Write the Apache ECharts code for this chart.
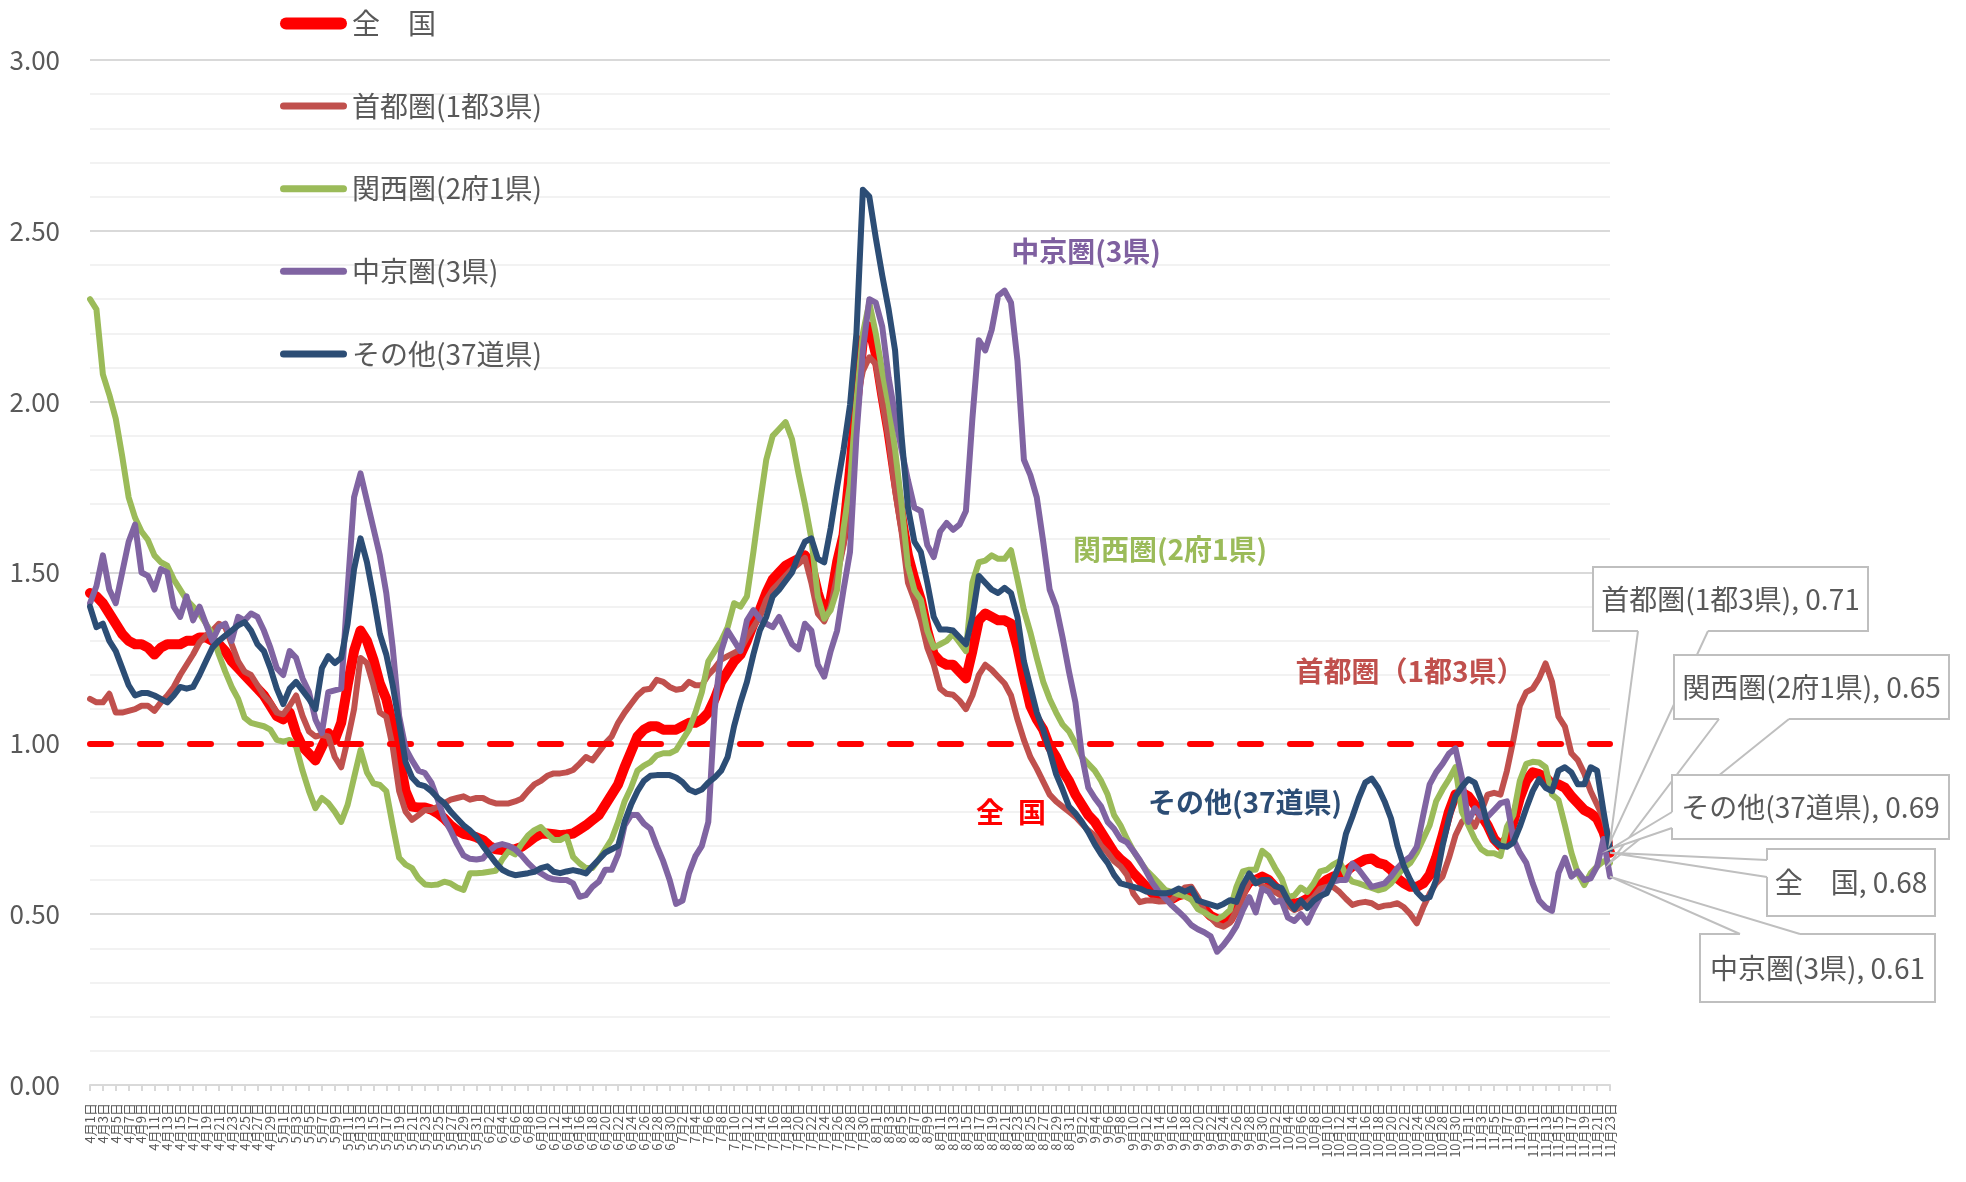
<!DOCTYPE html>
<html><head><meta charset="utf-8">
<script src="https://cdn.jsdelivr.net/npm/echarts@6/dist/echarts.min.js"></script>
<style>html,body{margin:0;padding:0;background:#fff}#c{width:1966px;height:1182px}</style>
</head><body><div id="c"></div>
<script>
// ---- categories (4/1 - 11/23) ----
const monthDays = [[4,30],[5,31],[6,30],[7,31],[8,31],[9,30],[10,31],[11,23]];
const dates = [];
for (const [m, n] of monthDays) for (let d = 1; d <= n; d++) dates.push(m + '月' + d + '日');

const seriesNames = ['全　国', '首都圏(1都3県)', '関西圏(2府1県)', '中京圏(3県)', 'その他(37道県)'];
const threshold = 1.0;

const zenkoku = [
1.44,1.43,1.41,1.38,1.35,1.32,1.30,1.29,1.29,1.28,
1.26,1.28,1.29,1.29,1.29,1.30,1.30,1.31,1.31,1.30,
1.29,1.27,1.24,1.22,1.20,1.18,1.16,1.14,1.11,1.08,
1.07,1.09,1.03,0.99,0.97,0.95,0.99,1.03,1.01,1.06,
1.17,1.27,1.33,1.30,1.245,1.175,1.13,1.05,0.96,0.86,
0.815,0.812,0.812,0.806,0.795,0.78,0.76,0.745,0.735,0.731,
0.725,0.717,0.70,0.69,0.688,0.688,0.69,0.697,0.71,0.725,
0.735,0.736,0.734,0.731,0.733,0.736,0.748,0.76,0.775,0.79,
0.82,0.85,0.88,0.93,0.975,1.02,1.04,1.05,1.05,1.04,
1.04,1.04,1.05,1.06,1.06,1.07,1.09,1.13,1.18,1.21,
1.24,1.26,1.30,1.35,1.39,1.44,1.48,1.50,1.52,1.53,
1.54,1.55,1.52,1.44,1.38,1.42,1.53,1.61,1.80,2.00,
2.18,2.22,2.14,2.02,1.91,1.78,1.66,1.55,1.48,1.42,
1.33,1.26,1.24,1.23,1.23,1.21,1.19,1.27,1.36,1.38,
1.37,1.36,1.36,1.35,1.28,1.19,1.11,1.07,1.04,0.99,
0.96,0.92,0.89,0.85,0.82,0.79,0.77,0.74,0.71,0.68,
0.66,0.645,0.62,0.60,0.58,0.56,0.555,0.55,0.545,0.555,
0.56,0.55,0.535,0.515,0.495,0.485,0.478,0.485,0.52,0.565,
0.595,0.60,0.61,0.60,0.58,0.565,0.54,0.53,0.535,0.545,
0.56,0.585,0.60,0.61,0.615,0.625,0.64,0.65,0.66,0.663,
0.65,0.645,0.63,0.605,0.59,0.58,0.58,0.59,0.615,0.665,
0.73,0.80,0.85,0.856,0.845,0.82,0.79,0.76,0.72,0.70,
0.72,0.77,0.84,0.89,0.915,0.91,0.90,0.88,0.88,0.87,
0.845,0.825,0.805,0.795,0.78,0.74,0.68];

const shutoken = [
1.13,1.12,1.12,1.145,1.09,1.09,1.095,1.10,1.11,1.11,
1.095,1.12,1.14,1.165,1.20,1.23,1.26,1.295,1.315,1.33,
1.35,1.34,1.29,1.24,1.21,1.20,1.17,1.14,1.12,1.09,
1.085,1.11,1.14,1.08,1.035,1.02,1.025,1.02,0.96,0.93,
1.01,1.10,1.25,1.235,1.17,1.09,1.078,0.99,0.86,0.80,
0.776,0.79,0.805,0.805,0.815,0.825,0.835,0.84,0.845,0.835,
0.84,0.84,0.83,0.824,0.824,0.824,0.83,0.838,0.86,0.88,
0.89,0.905,0.912,0.912,0.915,0.922,0.94,0.96,0.95,0.975,
1.00,1.02,1.06,1.09,1.115,1.14,1.157,1.16,1.186,1.18,
1.165,1.157,1.16,1.18,1.17,1.17,1.20,1.22,1.245,1.255,
1.265,1.275,1.31,1.34,1.37,1.42,1.45,1.47,1.49,1.51,
1.525,1.543,1.47,1.38,1.357,1.40,1.49,1.58,1.75,2.00,
2.09,2.13,2.11,2.00,1.89,1.74,1.62,1.47,1.42,1.36,
1.28,1.23,1.16,1.145,1.142,1.125,1.10,1.14,1.20,1.23,
1.215,1.195,1.175,1.14,1.07,1.01,0.96,0.926,0.888,0.85,
0.83,0.815,0.80,0.785,0.765,0.745,0.73,0.70,0.68,0.655,
0.64,0.615,0.56,0.535,0.54,0.54,0.537,0.538,0.541,0.56,
0.578,0.58,0.55,0.51,0.49,0.47,0.463,0.475,0.51,0.55,
0.595,0.60,0.583,0.575,0.565,0.553,0.525,0.512,0.52,0.535,
0.55,0.575,0.58,0.58,0.565,0.545,0.527,0.533,0.536,0.532,
0.52,0.525,0.527,0.532,0.52,0.50,0.473,0.52,0.56,0.59,
0.61,0.665,0.73,0.77,0.785,0.756,0.80,0.85,0.855,0.85,
0.92,1.01,1.11,1.15,1.16,1.19,1.234,1.18,1.078,1.049,
0.971,0.951,0.912,0.86,0.82,0.78,0.71];

const kansai = [
2.30,2.27,2.08,2.02,1.95,1.84,1.72,1.66,1.62,1.595,
1.55,1.53,1.52,1.48,1.45,1.42,1.40,1.38,1.35,1.32,
1.26,1.21,1.165,1.13,1.075,1.06,1.055,1.05,1.04,1.01,
1.005,1.01,0.99,0.92,0.86,0.81,0.84,0.825,0.80,0.77,
0.82,0.90,0.98,0.915,0.883,0.878,0.86,0.76,0.665,0.645,
0.635,0.605,0.587,0.585,0.587,0.595,0.59,0.578,0.571,0.62,
0.62,0.621,0.624,0.627,0.66,0.685,0.675,0.705,0.73,0.746,
0.755,0.735,0.717,0.717,0.727,0.668,0.649,0.635,0.635,0.66,
0.69,0.72,0.77,0.83,0.87,0.92,0.935,0.945,0.965,0.971,
0.971,0.98,1.01,1.04,1.09,1.15,1.24,1.27,1.30,1.34,
1.41,1.40,1.43,1.56,1.70,1.83,1.90,1.92,1.94,1.89,
1.79,1.70,1.60,1.43,1.365,1.39,1.45,1.63,1.76,2.00,
2.20,2.29,2.20,2.09,1.99,1.86,1.70,1.52,1.448,1.42,
1.33,1.28,1.29,1.30,1.32,1.295,1.27,1.47,1.53,1.535,
1.55,1.54,1.54,1.565,1.48,1.39,1.325,1.25,1.18,1.13,
1.09,1.055,1.035,1.00,0.96,0.94,0.92,0.89,0.85,0.79,
0.76,0.72,0.685,0.655,0.629,0.61,0.59,0.57,0.565,0.558,
0.552,0.543,0.515,0.505,0.493,0.485,0.495,0.512,0.58,0.625,
0.63,0.63,0.685,0.67,0.635,0.605,0.55,0.555,0.578,0.565,
0.59,0.625,0.63,0.645,0.655,0.615,0.595,0.59,0.583,0.577,
0.57,0.575,0.59,0.615,0.635,0.65,0.68,0.72,0.76,0.83,
0.865,0.895,0.93,0.80,0.76,0.72,0.69,0.678,0.678,0.67,
0.756,0.79,0.89,0.94,0.946,0.944,0.93,0.85,0.834,0.76,
0.68,0.62,0.585,0.62,0.64,0.655,0.65];

const chukyo = [
1.41,1.46,1.55,1.45,1.41,1.50,1.59,1.64,1.50,1.49,
1.45,1.51,1.50,1.40,1.37,1.43,1.36,1.40,1.35,1.30,
1.34,1.35,1.30,1.37,1.36,1.38,1.37,1.33,1.28,1.22,
1.20,1.27,1.25,1.19,1.15,1.07,1.03,1.15,1.155,1.16,
1.45,1.72,1.79,1.71,1.63,1.55,1.44,1.28,1.08,0.985,
0.95,0.92,0.913,0.885,0.835,0.78,0.745,0.705,0.672,0.662,
0.66,0.663,0.685,0.70,0.705,0.70,0.69,0.672,0.65,0.632,
0.62,0.608,0.602,0.60,0.60,0.59,0.551,0.556,0.58,0.595,
0.63,0.63,0.675,0.76,0.79,0.79,0.765,0.75,0.70,0.655,
0.60,0.53,0.54,0.62,0.67,0.70,0.77,1.10,1.27,1.33,
1.30,1.27,1.36,1.39,1.365,1.35,1.34,1.37,1.33,1.29,
1.275,1.35,1.33,1.23,1.195,1.27,1.33,1.45,1.56,1.90,
2.15,2.30,2.29,2.22,2.07,1.96,1.86,1.77,1.69,1.68,
1.58,1.545,1.62,1.645,1.625,1.64,1.68,1.95,2.18,2.15,
2.21,2.31,2.325,2.29,2.12,1.83,1.785,1.72,1.59,1.45,
1.40,1.31,1.21,1.12,0.965,0.87,0.84,0.815,0.77,0.75,
0.72,0.71,0.685,0.658,0.625,0.59,0.565,0.545,0.525,0.508,
0.49,0.468,0.456,0.447,0.435,0.39,0.41,0.435,0.465,0.512,
0.55,0.505,0.575,0.565,0.535,0.54,0.49,0.48,0.50,0.475,
0.515,0.55,0.571,0.595,0.60,0.60,0.648,0.63,0.605,0.58,
0.585,0.59,0.61,0.635,0.655,0.668,0.697,0.79,0.88,0.915,
0.94,0.97,0.985,0.90,0.77,0.81,0.785,0.785,0.805,0.825,
0.83,0.72,0.68,0.65,0.59,0.54,0.52,0.51,0.62,0.665,
0.61,0.625,0.60,0.605,0.64,0.72,0.61];

const sonota = [
1.40,1.34,1.35,1.30,1.27,1.22,1.17,1.14,1.147,1.147,
1.14,1.13,1.12,1.14,1.165,1.16,1.165,1.20,1.24,1.28,
1.30,1.315,1.33,1.345,1.355,1.33,1.29,1.27,1.22,1.16,
1.115,1.16,1.18,1.155,1.13,1.10,1.22,1.255,1.235,1.25,
1.35,1.51,1.60,1.53,1.43,1.32,1.26,1.17,1.06,0.945,
0.90,0.88,0.875,0.86,0.84,0.825,0.80,0.78,0.76,0.745,
0.727,0.70,0.675,0.65,0.63,0.62,0.614,0.617,0.62,0.624,
0.635,0.64,0.624,0.62,0.625,0.629,0.625,0.619,0.64,0.66,
0.68,0.69,0.70,0.77,0.82,0.86,0.89,0.905,0.907,0.907,
0.907,0.90,0.886,0.865,0.857,0.865,0.885,0.90,0.92,0.96,
1.05,1.12,1.18,1.26,1.33,1.37,1.43,1.45,1.475,1.50,
1.55,1.59,1.60,1.54,1.53,1.63,1.75,1.86,1.99,2.20,
2.62,2.60,2.48,2.37,2.27,2.15,1.90,1.69,1.59,1.56,
1.47,1.37,1.333,1.333,1.33,1.31,1.29,1.37,1.49,1.47,
1.45,1.44,1.455,1.44,1.37,1.24,1.165,1.09,1.04,0.977,
0.91,0.865,0.815,0.795,0.77,0.74,0.705,0.675,0.65,0.615,
0.59,0.585,0.58,0.575,0.566,0.563,0.561,0.561,0.565,0.575,
0.566,0.575,0.54,0.534,0.528,0.522,0.53,0.541,0.536,0.585,
0.619,0.59,0.60,0.60,0.582,0.576,0.54,0.515,0.54,0.518,
0.54,0.553,0.561,0.60,0.645,0.735,0.785,0.84,0.885,0.897,
0.87,0.83,0.78,0.70,0.64,0.60,0.565,0.545,0.55,0.60,
0.70,0.78,0.845,0.873,0.895,0.885,0.835,0.76,0.715,0.70,
0.697,0.71,0.756,0.81,0.86,0.895,0.87,0.86,0.92,0.93,
0.915,0.88,0.88,0.93,0.92,0.80,0.69];

const seriesData = [zenkoku, shutoken, kansai, chukyo, sonota];
const colors = ['#FF0000', '#C0504D', '#9BBB59', '#8064A2', '#2C4D75'];
const widths = [10, 6, 6, 6, 6];

const FONT = "'Noto Sans CJK JP', 'Noto Sans', sans-serif";
const chart = echarts.init(document.getElementById('c'), null, {renderer: 'canvas'});

const iconThick = 'path://M6,0 L61,0 A6,6 0 0 1 61,12 L6,12 A6,6 0 0 1 6,0 Z';
const iconThin = 'path://M3.5,0 L63.5,0 A3.5,3.5 0 0 1 63.5,7 L3.5,7 A3.5,3.5 0 0 1 3.5,0 Z';

const series = seriesNames.map((name, k) => {
  const s = {
    name, type: 'line', data: seriesData[k], symbol: 'none', showSymbol: false,
    lineStyle: {color: colors[k], width: widths[k], cap: 'round', join: 'round'},
    itemStyle: {color: colors[k]}, z: 2 + k, emphasis: {disabled: true}
  };
  if (k === 0) {
    s.markLine = {
      silent: true, symbol: ['none', 'none'], label: {show: false},
      lineStyle: {color: '#FF0000', width: 6, type: [21, 29], cap: 'round'},
      data: [{yAxis: threshold}]
    };
  }
  return s;
});

chart.setOption({
  animation: false,
  backgroundColor: '#ffffff',
  grid: {left: 90, right: 356, top: 60, bottom: 97, containLabel: false, outerBoundsMode: 'none'},
  legend: {
    orient: 'vertical', left: 275, top: 4.5, itemWidth: 67, itemHeight: 28, itemGap: 54.6,
    selectedMode: false,
    textStyle: {fontSize: 28, color: '#595959', fontFamily: FONT},
    data: seriesNames.map((n, k) => ({name: n, icon: k === 0 ? iconThick : iconThin}))
  },
  xAxis: {
    type: 'category', data: dates, boundaryGap: false,
    axisLine: {lineStyle: {color: '#D9D9D9', width: 2}},
    axisTick: {show: true, interval: 1, length: 6, lineStyle: {color: '#D9D9D9', width: 2}},
    axisLabel: {interval: 1, rotate: 90, fontSize: 13, color: '#595959', margin: 18, fontFamily: FONT},
    splitLine: {show: false}
  },
  yAxis: {
    type: 'value', min: 0, max: 3, interval: 0.5,
    axisLine: {show: false}, axisTick: {show: false},
    axisLabel: {formatter: v => v.toFixed(2), fontSize: 26, color: '#595959', margin: 30, fontFamily: FONT},
    splitLine: {lineStyle: {color: '#D9D9D9', width: 2}},
    minorTick: {show: false, splitNumber: 5},
    minorSplitLine: {show: true, lineStyle: {color: '#F2F2F2', width: 2}}
  },
  series
});

// ---- in-chart labels ----
const inlineLabels = [
  {text: '中京圏(3県)', x: 1086, y: 251, color: '#7F60A0'},
  {text: '関西圏(2府1県)', x: 1170, y: 549, color: '#9BBB59'},
  {text: '首都圏（1都3県）', x: 1410, y: 671, color: '#C0504D'},
  {text: '全\u2002国', x: 1011, y: 812, color: '#FF0000'},
  {text: 'その他(37道県)', x: 1245, y: 802, color: '#2C4D75'}
];

// ---- callouts for last values ----
const callouts = [
  {si: 1, rect: [1593, 567, 275, 64], base: [[1638, 631], [1708, 631]], inward: [0, -1]},
  {si: 2, rect: [1674, 655, 275, 64], base: [[1719, 719], [1789, 719]], inward: [0, -1]},
  {si: 4, rect: [1672, 775, 277, 64], base: [[1672, 812], [1672, 828]], inward: [1, 0]},
  {si: 0, rect: [1767, 849, 168, 67], base: [[1767, 860], [1767, 877]], inward: [1, 0]},
  {si: 3, rect: [1700, 934, 235, 68], base: [[1740, 934], [1800, 934]], inward: [0, 1]}
];

const els = [];
inlineLabels.forEach(l => {
  els.push({type: 'text', x: l.x, y: l.y, z: 50,
    style: {text: l.text, fill: l.color, fontSize: 28, fontWeight: 'bold', fontFamily: FONT, align: 'center', verticalAlign: 'middle'}});
});
callouts.forEach((c, k) => {
  const arr = seriesData[c.si];
  const last = arr.length - 1;
  const tip = chart.convertToPixel({seriesIndex: c.si}, [last, arr[last]]);
  const [b1, b2] = c.base;
  const [ix, iy] = c.inward;
  const z = 100 + k * 5;
  els.push({type: 'rect', z: z, shape: {x: c.rect[0], y: c.rect[1], width: c.rect[2], height: c.rect[3]},
    style: {fill: '#fff', stroke: '#BFBFBF', lineWidth: 2}});
  els.push({type: 'polygon', z: z + 1,
    shape: {points: [[b1[0] + ix * 3, b1[1] + iy * 3], b1, tip, b2, [b2[0] + ix * 3, b2[1] + iy * 3]]},
    style: {fill: '#fff', stroke: null}});
  els.push({type: 'polyline', z: z + 2, shape: {points: [b1, tip, b2]},
    style: {stroke: '#BFBFBF', lineWidth: 2, fill: null}});
  els.push({type: 'text', z: z + 3, x: c.rect[0] + c.rect[2] / 2, y: c.rect[1] + c.rect[3] / 2,
    style: {text: seriesNames[c.si] + ', ' + arr[last].toFixed(2), fill: '#595959', fontSize: 28, fontFamily: FONT,
      align: 'center', verticalAlign: 'middle'}});
});
chart.setOption({graphic: {elements: els}});
</script>
</body></html>
